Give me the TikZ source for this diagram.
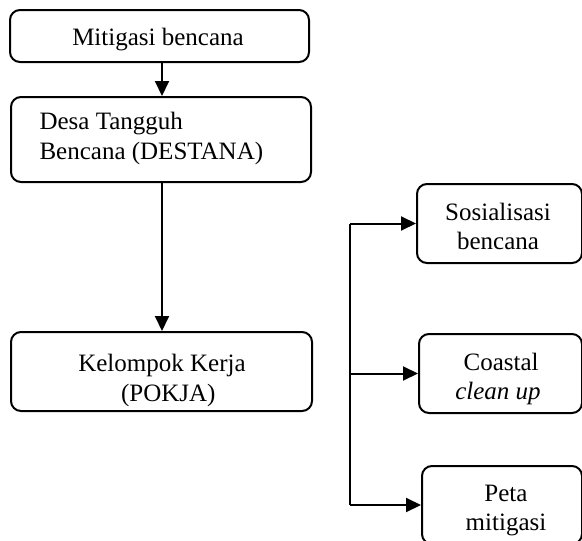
\documentclass[tikz,border=0pt]{standalone}
\usepackage{fontspec}
\setmainfont{Liberation Serif}
\usetikzlibrary{arrows.meta}
\begin{document}
\begin{tikzpicture}[x=1pt,y=1pt,
  box/.style={draw, line width=2pt, rounded corners=10pt, anchor=north west, inner sep=0pt, font=\fontsize{25}{30}\selectfont},
  arr/.style={line width=2pt, -{Triangle[length=15pt,width=14pt]}},
  ln/.style={line width=2pt}]
\useasboundingbox (0,0) rectangle (582,-541);
\clip (0,0) rectangle (582,-541);
\node[box, minimum width=299pt, minimum height=52pt] (b1) at (9,-9) {};
\node at (158,-40) {\fontsize{25}{30}\selectfont Mitigasi bencana};
\node[box, minimum width=300pt, minimum height=85pt] (b2) at (10,-96) {};
\node[anchor=west, align=left, font=\fontsize{25}{30}\selectfont] at (36,-138) {Desa Tangguh\\Bencana (DESTANA)};
\node[box, minimum width=301pt, minimum height=79pt] (b3) at (10,-331) {};
\node[align=center, font=\fontsize{25}{30}\selectfont] at (162,-380) {Kelompok Kerja\\\ \ (POKJA)};
\node[box, minimum width=165pt, minimum height=79pt] (s1) at (416,-183) {};
\node[align=center, font=\fontsize{25}{29}\selectfont] at (498,-226) {Sosialisasi\\bencana};
\node[box, minimum width=163pt, minimum height=79pt] (s2) at (418,-333) {};
\node[align=center, font=\fontsize{25}{29}\selectfont] at (498,-379) {\ Coastal\\\textit{clean up}};
\node[box, minimum width=160pt, minimum height=78pt] (s3) at (421,-465) {};
\node[align=center, font=\fontsize{25}{29}\selectfont] at (506,-511) {Peta\\mitigasi};
\coordinate (ax) at (162,0);
\coordinate (bx) at (350,0);
\draw[arr] (b1.south -| ax) -- (b2.north -| ax);
\draw[arr] (b2.south -| ax) -- (b3.north -| ax);
\draw[ln] (bx |- s1.west) -- (bx |- s3.west);
\draw[arr] (bx |- s1.west) -- (s1.west);
\draw[arr] (bx |- s2.west) -- (s2.west);
\draw[arr] (bx |- s3.west) -- (s3.west);
\end{tikzpicture}
\end{document}
